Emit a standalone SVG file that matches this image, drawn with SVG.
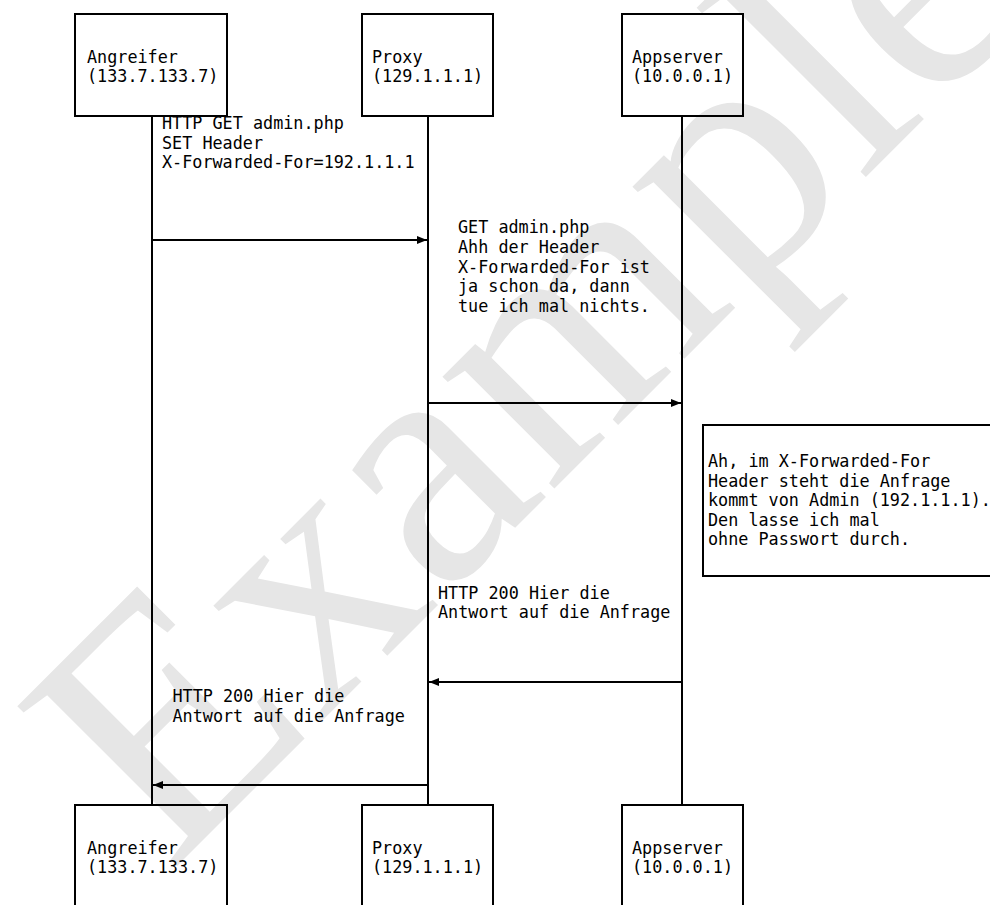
<svg xmlns="http://www.w3.org/2000/svg" width="990" height="905" viewBox="0 0 990 905">
<defs>
<style>
.box{fill:none;stroke:#000;stroke-width:2}
.life{stroke:#000;stroke-width:2;fill:none}
.msg{stroke:#000;stroke-width:2;fill:none;marker-end:url(#ah)}
.t{font-family:"DejaVu Sans Mono","Liberation Mono",monospace;font-size:16.8px;fill:#000}
.wm{font-family:"Liberation Serif","DejaVu Serif",serif;font-size:345px;fill:#e6e6e6}
</style>
<marker id="ah" markerUnits="userSpaceOnUse" markerWidth="10" markerHeight="8" refX="10" refY="4" orient="auto">
<path d="M0,0 L10,4 L0,8 z" fill="#000"/>
</marker>
</defs>
<rect width="990" height="905" fill="#fff"/>
<text class="wm" transform="translate(170,873) rotate(-45)">Example</text>
<g id="lifelines">
<line class="life" x1="152" y1="117" x2="152" y2="804"/>
<line class="life" x1="428" y1="117" x2="428" y2="804"/>
<line class="life" x1="682" y1="117" x2="682" y2="804"/>
</g>
<g id="angreifer-top">
<rect class="box" x="75" y="14" width="152" height="102"/>
<text class="t" x="87" y="63">Angreifer</text>
<text class="t" x="87" y="82">(133.7.133.7)</text>
</g>
<g id="proxy-top">
<rect class="box" x="362" y="14" width="131" height="102"/>
<text class="t" x="372" y="63">Proxy</text>
<text class="t" x="372" y="82">(129.1.1.1)</text>
</g>
<g id="appserver-top">
<rect class="box" x="622" y="14" width="121" height="102"/>
<text class="t" x="632" y="63">Appserver</text>
<text class="t" x="632" y="82">(10.0.0.1)</text>
</g>
<g id="angreifer-bottom">
<rect class="box" x="75" y="805" width="152" height="102"/>
<text class="t" x="87" y="854">Angreifer</text>
<text class="t" x="87" y="873">(133.7.133.7)</text>
</g>
<g id="proxy-bottom">
<rect class="box" x="362" y="805" width="131" height="102"/>
<text class="t" x="372" y="854">Proxy</text>
<text class="t" x="372" y="873">(129.1.1.1)</text>
</g>
<g id="appserver-bottom">
<rect class="box" x="622" y="805" width="121" height="102"/>
<text class="t" x="632" y="854">Appserver</text>
<text class="t" x="632" y="873">(10.0.0.1)</text>
</g>
<g id="note">
<rect class="box" x="703" y="425" width="300" height="151"/>
<text class="t" x="708" y="467">Ah, im X-Forwarded-For</text>
<text class="t" x="708" y="486.6">Header steht die Anfrage</text>
<text class="t" x="708" y="506.2">kommt von Admin (192.1.1.1).</text>
<text class="t" x="708" y="525.8">Den lasse ich mal</text>
<text class="t" x="708" y="545.4">ohne Passwort durch.</text>
</g>
<g id="connectors">
<line class="msg" x1="152" y1="240" x2="427" y2="240"/>
<line class="msg" x1="428" y1="403" x2="681" y2="403"/>
<line class="msg" x1="682" y1="682" x2="429" y2="682"/>
<line class="msg" x1="428" y1="785" x2="153" y2="785"/>
</g>
<g id="labels">
<text class="t" x="162" y="129">HTTP GET admin.php</text>
<text class="t" x="162" y="148.6">SET Header</text>
<text class="t" x="162" y="168.2">X-Forwarded-For=192.1.1.1</text>
<text class="t" x="458" y="233.3">GET admin.php</text>
<text class="t" x="458" y="252.9">Ahh der Header</text>
<text class="t" x="458" y="272.5">X-Forwarded-For ist</text>
<text class="t" x="458" y="292.1">ja schon da, dann</text>
<text class="t" x="458" y="311.7">tue ich mal nichts.</text>
<text class="t" x="438" y="598.5">HTTP 200 Hier die</text>
<text class="t" x="438" y="618.1">Antwort auf die Anfrage</text>
<text class="t" x="172.5" y="702.3">HTTP 200 Hier die</text>
<text class="t" x="172.5" y="721.9">Antwort auf die Anfrage</text>
</g>
</svg>
